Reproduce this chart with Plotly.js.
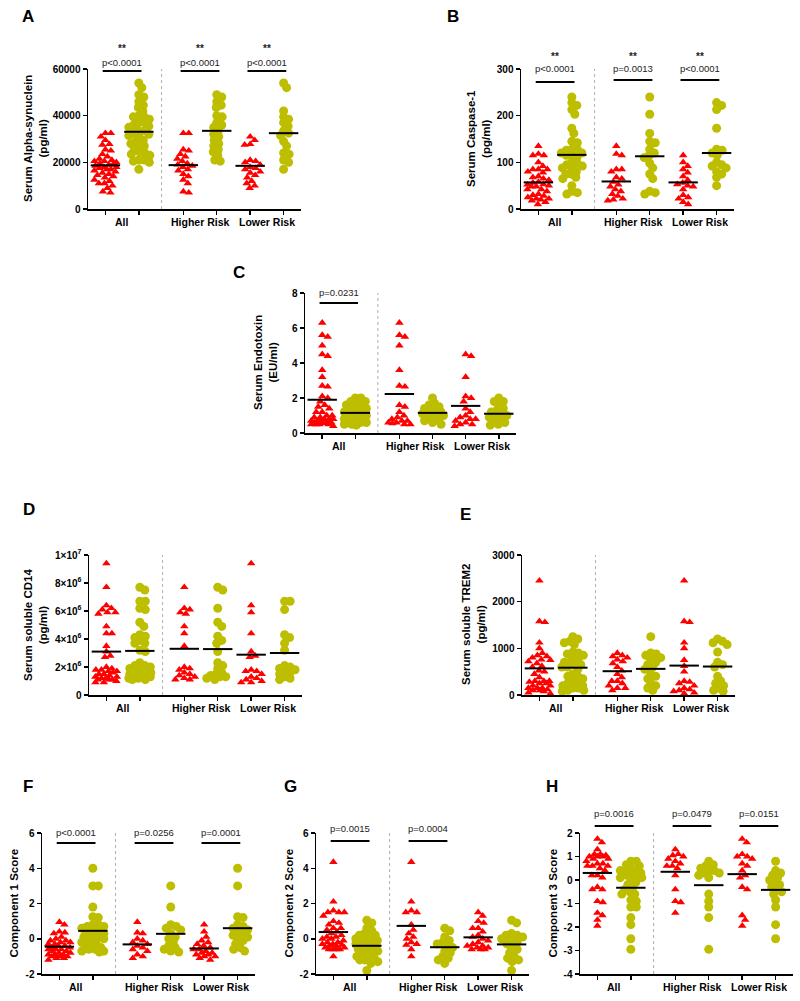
<!DOCTYPE html>
<html><head><meta charset="utf-8">
<script src="https://cdn.plot.ly/plotly-3.0.1.min.js"></script>
<style>html,body{margin:0;padding:0;background:#fff}#chart{width:800px;height:1001px}</style>
</head><body><div id="chart"></div>
<script>
// ---------- DATA ----------
const groupLabels = ['All', 'Higher Risk', 'Lower Risk'];

// A: Serum Alpha-synuclein (pg/ml)
const A_red_hr = [32500, 32500, 25500, 25000, 23500, 22500, 21500, 20500, 19500, 19000, 18500, 18000, 17000, 16500, 15000, 14000, 12500, 11000, 7500, 7000];
const A_red_lr = [31000, 29500, 27800, 27500, 21000, 20500, 20000, 19000, 18000, 17500, 17000, 16000, 15500, 14500, 13500, 12000, 11000, 10000, 9000];
const A_yel_hr = [49000, 48000, 46000, 44500, 43500, 40000, 39500, 37000, 36000, 35000, 33500, 32000, 31000, 29500, 28000, 27000, 25500, 24500, 23000, 21000, 20500];
const A_yel_lr = [54000, 52000, 42000, 39500, 38500, 37000, 35500, 33500, 32500, 31500, 29000, 27000, 24000, 23500, 21000, 20000, 17000];
const A_means = [18700, 33100, 18800, 33500, 18500, 32500];
const A_tickvals = [0, 20000, 40000, 60000];
const A_ticktext = ['0', '20000', '40000', '60000'];
const A_pvals = ['p<0.0001', 'p<0.0001', 'p<0.0001'];
const A_stars = ['**', '**', '**'];

// B: Serum Caspase-1 (pg/ml)
const B_red_hr = [135, 118, 115, 85, 80, 85, 68, 65, 58, 52, 48, 42, 38, 32, 28, 22, 20, 18];
const B_red_lr = [115, 100, 92, 85, 78, 70, 62, 56, 53, 50, 48, 42, 30, 25, 22, 15, 10];
const B_yel_hr = [240, 203, 162, 145, 142, 128, 120, 115, 110, 98, 88, 75, 65, 38, 35, 32];
const B_yel_lr = [228, 222, 213, 173, 128, 126, 120, 115, 100, 92, 95, 88, 80, 75, 68, 50];
const B_means = [57, 116, 59, 113, 57, 120];
const B_tickvals = [0, 100, 200, 300];
const B_ticktext = ['0', '100', '200', '300'];
const B_pvals = ['p<0.0001', 'p=0.0013', 'p<0.0001'];
const B_stars = ['**', '**', '**'];

// C: Serum Endotoxin (EU/ml)
const C_red_hr = [6.3, 5.5, 5.6, 5.0, 3.6, 2.7, 2.65, 1.6, 1.5, 1.2, 1.0, 0.9, 0.8, 0.7, 0.7, 0.6, 0.6, 0.55, 0.5, 0.5];
const C_red_lr = [4.4, 4.5, 3.2, 2.1, 2.0, 1.8, 1.4, 1.2, 1.0, 0.9, 0.8, 0.8, 0.7, 0.6, 0.5, 0.5, 0.4];
const C_yel_hr = [2.0, 1.7, 1.6, 1.5, 1.4, 1.3, 1.2, 1.2, 1.1, 1.0, 1.0, 0.9, 0.8, 0.7, 0.6, 0.5];
const C_yel_lr = [2.0, 1.8, 1.8, 1.6, 1.4, 1.3, 1.2, 1.1, 1.0, 1.0, 0.9, 0.8, 0.7, 0.6, 0.5, 0.45];
const C_means = [1.9, 1.15, 2.23, 1.15, 1.55, 1.1];
const C_tickvals = [0, 2, 4, 6, 8];
const C_ticktext = ['0', '2', '4', '6', '8'];
const C_pvals = ['p=0.0231', null, null];
const C_stars = [null, null, null];

// D: Serum soluble CD14 (pg/ml)
const D_red_hr = [7.7e6, 6.2e6, 6.1e6, 5.9e6, 5.8e6, 4.9e6, 4.4e6, 3.5e6, 2.0e6, 1.9e6, 1.8e6, 1.6e6, 1.5e6, 1.4e6, 1.3e6, 1.2e6, 1.1e6, 1.1e6];
const D_red_lr = [9.4e6, 6.4e6, 5.9e6, 4.4e6, 3.1e6, 2.8e6, 2.7e6, 1.8e6, 1.7e6, 1.7e6, 1.5e6, 1.3e6, 1.2e6, 1.1e6, 1.0e6, 0.9e6, 0.9e6];
const D_yel_hr = [7.7e6, 7.5e6, 6.2e6, 5.2e6, 4.9e6, 4.2e6, 3.9e6, 3.7e6, 3.1e6, 2.3e6, 2.1e6, 1.9e6, 1.6e6, 1.5e6, 1.4e6, 1.3e6, 1.3e6, 1.2e6, 1.1e6];
const D_yel_lr = [6.7e6, 6.7e6, 6.1e6, 4.3e6, 4.1e6, 3.7e6, 3.2e6, 2.1e6, 2.0e6, 1.9e6, 1.8e6, 1.7e6, 1.6e6, 1.5e6, 1.3e6, 1.2e6, 1.1e6];
const D_means = [3.1e6, 3.15e6, 3.3e6, 3.28e6, 2.88e6, 3.0e6];
const D_tickvals = [0, 2e6, 4e6, 6e6, 8e6, 1e7];
const D_ticktext = ['0', '2×10<sup>6</sup>', '4×10<sup>6</sup>', '6×10<sup>6</sup>', '8×10<sup>6</sup>', '1×10<sup>7</sup>'];

// E: Serum soluble TREM2 (pg/ml)
const E_red_hr = [900, 850, 830, 800, 760, 720, 680, 600, 520, 450, 380, 300, 300, 250, 200, 150, 150, 100];
const E_red_lr = [2450, 1580, 1560, 1120, 1000, 750, 620, 500, 300, 280, 250, 200, 150, 120, 100, 80, 50, 30];
const E_yel_hr = [1250, 900, 880, 850, 800, 750, 700, 650, 600, 550, 450, 400, 350, 250, 200, 150, 100];
const E_yel_lr = [1200, 1150, 1120, 1080, 920, 700, 650, 600, 400, 300, 250, 200, 150, 100, 80];
const E_means = [570, 585, 510, 560, 630, 610];
const E_tickvals = [0, 1000, 2000, 3000];
const E_ticktext = ['0', '1000', '2000', '3000'];

// F: Component 1 Score
const F_red_hr = [0.95, 0.35, 0.3, 0.0, -0.1, -0.2, -0.3, -0.4, -0.5, -0.6, -0.7, -0.9, -1.0, -1.1];
const F_red_lr = [0.8, 0.4, 0.1, -0.1, -0.2, -0.3, -0.4, -0.5, -0.6, -0.6, -0.7, -0.8, -0.8, -0.9, -0.9, -1.0, -1.0, -1.1, -1.2];
const F_yel_hr = [3.0, 1.8, 0.8, 0.7, 0.6, 0.5, 0.3, 0.1, 0.0, -0.2, -0.4, -0.5, -0.6, -0.7, -0.75];
const F_yel_lr = [4.0, 3.0, 1.25, 1.2, 0.8, 0.7, 0.6, 0.5, 0.4, 0.3, 0.2, 0.1, 0.0, -0.1, -0.3, -0.5, -0.6, -0.7];
const F_means = [-0.45, 0.45, -0.32, 0.28, -0.55, 0.6];
const F_pvals = ['p<0.0001', 'p=0.0256', 'p=0.0001'];

// G: Component 2 Score
const G_red_hr = [4.35, 2.1, 1.6, 1.5, 1.5, 0.8, 0.5, 0.3, 0.1, 0.0, -0.2, -0.3, -0.35, -0.6, -1.0];
const G_red_lr = [1.5, 1.3, 1.0, 0.9, 0.6, 0.6, 0.4, 0.2, 0.1, 0.0, -0.1, -0.2, -0.3, -0.4, -0.4, -0.5, -0.5, -0.6, -0.6, -0.6];
const G_yel_hr = [0.6, 0.45, 0.1, -0.1, -0.2, -0.3, -0.4, -0.5, -0.7, -0.8, -1.0, -1.1, -1.2, -1.4];
const G_yel_lr = [1.05, 0.9, 0.3, 0.2, 0.2, 0.1, 0.0, -0.1, -0.2, -0.3, -0.5, -0.6, -0.8, -1.0, -1.1, -1.2, -1.3, -1.8];
const G_means = [0.38, -0.4, 0.73, -0.48, 0.08, -0.32];
const G_pvals = ['p=0.0015', 'p=0.0004', null];
const FG_tickvals = [-2, 0, 2, 4, 6];
const FG_ticktext = ['-2', '0', '2', '4', '6'];

// H: Component 3 Score
const H_red_hr = [1.3, 1.1, 1.05, 1.0, 0.9, 0.8, 0.7, 0.6, 0.6, 0.5, 0.2, -0.4, -0.9, -0.95, -1.4];
const H_red_lr = [1.75, 1.6, 1.1, 1.0, 1.0, 0.9, 0.7, 0.6, 0.4, 0.2, 0.1, -0.3, -0.4, -1.5, -1.7, -1.95];
const H_yel_hr = [0.8, 0.65, 0.6, 0.5, 0.4, 0.4, 0.3, 0.3, 0.2, 0.1, -0.6, -0.9, -1.15, -1.6, -2.95];
const H_yel_lr = [0.8, 0.4, 0.3, 0.2, 0.1, 0.0, -0.1, -0.2, -0.3, -0.4, -0.5, -0.6, -0.85, -1.15, -1.9, -2.5];
const H_means = [0.3, -0.33, 0.35, -0.22, 0.25, -0.42];
const H_pvals = ['p=0.0016', 'p=0.0479', 'p=0.0151'];
const H_tickvals = [-4, -3, -2, -1, 0, 1, 2];
const H_ticktext = ['-4', '-3', '-2', '-1', '0', '1', '2'];

// ---------- LAYOUT CONFIG ----------
const W = 800, H = 1001;
const GP = [1, 2, 3.33, 4.33, 5.33, 6.33];   // group positions
const XR = [0.48, 6.85];
const SEP = 2.68;
const RED = '#FF0000', OLIVE = '#BEBE00';
const FONT = 'Liberation Sans, Arial, sans-serif';

const panels = [
  {letter:'A', lxy:[28,16], title:'Serum Alpha-synuclein<br>(pg/ml)', tx:36, d:[A_red_hr,A_red_lr,A_yel_hr,A_yel_lr], means:A_means,
   yr:[0,60000], tv:A_tickvals, tt:A_ticktext, px:[88,301], py:[69,209], pvals:A_pvals, stars:A_stars, barY:[71,71,71], textY:62, starY:48},
  {letter:'B', lxy:[453,16], title:'Serum Caspase-1<br>(pg/ml)', tx:479, d:[B_red_hr,B_red_lr,B_yel_hr,B_yel_lr], means:B_means,
   yr:[0,300], tv:B_tickvals, tt:B_ticktext, px:[521,734], py:[69,209], pvals:B_pvals, stars:B_stars, barY:[82,80,80], textY:68, starY:57},
  {letter:'C', lxy:[239,272], title:'Serum Endotoxin<br>(EU/ml)', tx:265, d:[C_red_hr,C_red_lr,C_yel_hr,C_yel_lr], means:C_means,
   yr:[0,8], tv:C_tickvals, tt:C_ticktext, px:[305,516], py:[293,433], pvals:C_pvals, stars:C_stars, barY:[303,303,303], textY:293, starY:0},
  {letter:'D', lxy:[29,510], title:'Serum soluble CD14<br>(pg/ml)', tx:35, d:[D_red_hr,D_red_lr,D_yel_hr,D_yel_lr], means:D_means,
   yr:[0,1e7], tv:D_tickvals, tt:D_ticktext, px:[89,302], py:[555,695], pvals:null, stars:null},
  {letter:'E', lxy:[465,514], title:'Serum soluble TREM2<br>(pg/ml)', tx:473, d:[E_red_hr,E_red_lr,E_yel_hr,E_yel_lr], means:E_means,
   yr:[0,3000], tv:E_tickvals, tt:E_ticktext, px:[522,735], py:[555,695], pvals:null, stars:null},
  {letter:'F', lxy:[28,786], title:'Component 1 Score', tx:13, d:[F_red_hr,F_red_lr,F_yel_hr,F_yel_lr], means:F_means,
   yr:[-2,6], tv:FG_tickvals, tt:FG_ticktext, px:[42,255], py:[833,974], pvals:F_pvals, stars:null, barY:[843,843,843], textY:832},
  {letter:'G', lxy:[290,786], title:'Component 2 Score', tx:288, d:[G_red_hr,G_red_lr,G_yel_hr,G_yel_lr], means:G_means,
   yr:[-2,6], tv:FG_tickvals, tt:FG_ticktext, px:[316,529], py:[833,974], pvals:G_pvals, stars:null, barY:[841,841,841], textY:828},
  {letter:'H', lxy:[552,786], title:'Component 3 Score', tx:552, d:[H_red_hr,H_red_lr,H_yel_hr,H_yel_lr], means:H_means,
   yr:[-4,2], tv:H_tickvals, tt:H_ticktext, px:[580,793], py:[833,974], pvals:H_pvals, stars:null, barY:[826,826,826], textY:813},
];

// beeswarm: horizontal pixel offsets so markers do not pile up
function swarmOffsets(vals, pxY, diam, maxPx) {
  const order = vals.map((v, i) => i).sort((a, b) => vals[b] - vals[a]);
  const placed = [], out = new Array(vals.length).fill(0);
  const cands = [0];
  for (let s = 0.5; s <= maxPx; s += 0.5) { cands.push(s); cands.push(-s); }
  for (const i of order) {
    const y = vals[i] * pxY;
    let chosen = null, bestD = -1, bestC = 0;
    for (const c of cands) {
      let md = Infinity;
      for (const p of placed) { const dd = Math.hypot(c - p[0], y - p[1]); if (dd < md) md = dd; }
      if (md >= diam) { chosen = c; break; }
      if (md > bestD) { bestD = md; bestC = c; }
    }
    if (chosen === null) chosen = bestC;
    placed.push([chosen, y]); out[i] = chosen;
  }
  return out;
}

const traces = [], shapes = [], annotations = [];
const layout = {
  width: W, height: H, margin: {l:0, r:0, t:0, b:0}, showlegend: false,
  paper_bgcolor: '#fff', plot_bgcolor: '#fff', font: {family: FONT, color: '#000'},
  hovermode: false, shapes: shapes, annotations: annotations
};

panels.forEach((p, k) => {
  const n = k === 0 ? '' : String(k + 1);
  const xid = 'x' + n, yid = 'y' + n;
  const xname = 'xaxis' + n, yname = 'yaxis' + n;
  layout[xname] = {domain: [p.px[0] / W, p.px[1] / W], range: XR, anchor: yid, showline: true, linecolor: '#000', linewidth: 1.5,
    ticks: 'outside', ticklen: 4, tickwidth: 1.5, tickcolor: '#000', tickmode: 'array', tickvals: GP, showticklabels: false,
    showgrid: false, zeroline: false, fixedrange: true};
  layout[yname] = {domain: [1 - p.py[1] / H, 1 - p.py[0] / H], range: p.yr, anchor: xid, showline: true, linecolor: '#000', linewidth: 1.5,
    ticks: 'outside', ticklen: 4, tickwidth: 1.5, tickcolor: '#000', tickmode: 'array', tickvals: p.tv, ticktext: p.tt,
    tickfont: {family: FONT, size: 10, weight: 'bold', color: '#000'}, showgrid: false, zeroline: false, fixedrange: true};

  const plotH = p.py[1] - p.py[0], plotW = p.px[1] - p.px[0];
  const pxY = plotH / (p.yr[1] - p.yr[0]);
  const pxX = plotW / (XR[1] - XR[0]);
  const [rh, rl, yh, yl] = p.d;
  const redGroups = [rh.concat(rl), rh, rl];   // All = Higher + Lower Risk
  const yelGroups = [yh.concat(yl), yh, yl];

  function build(groups, posIdx) {
    const xs = [], ys = [];
    groups.forEach((g, gi) => {
      const off = swarmOffsets(g, pxY, 5.5, 11);
      g.forEach((v, i) => { xs.push(GP[posIdx[gi]] + off[i] / pxX); ys.push(v); });
    });
    return {xs, ys};
  }
  const r = build(redGroups, [0, 2, 4]);
  const yv = build(yelGroups, [1, 3, 5]);
  traces.push({type: 'scatter', mode: 'markers', x: r.xs, y: r.ys, xaxis: xid, yaxis: yid, cliponaxis: false,
    marker: {symbol: 'triangle-up', size: 7.5, color: RED, line: {width: 0}}});
  traces.push({type: 'scatter', mode: 'markers', x: yv.xs, y: yv.ys, xaxis: xid, yaxis: yid, cliponaxis: false,
    marker: {symbol: 'circle', size: 9, color: OLIVE, line: {width: 0}}});
  traces.push({type: 'scatter', mode: 'markers', x: GP, y: p.means, xaxis: xid, yaxis: yid, cliponaxis: false,
    marker: {symbol: 'line-ew', size: 21, color: '#000', line: {width: 2, color: '#000'}}});

  // dotted separator
  shapes.push({type: 'line', xref: xid, yref: yid + ' domain', x0: SEP, x1: SEP, y0: 0, y1: 1,
    line: {color: '#b0b0b0', width: 1, dash: 'dot'}});

  // panel letter
  annotations.push({xref: 'paper', yref: 'paper', x: p.lxy[0] / W, y: 1 - p.lxy[1] / H, text: p.letter, showarrow: false,
    xanchor: 'center', yanchor: 'middle', font: {family: FONT, size: 17, weight: 'bold', color: '#000'}});
  // y title
  annotations.push({xref: 'paper', yref: 'paper', x: p.tx / W, y: 1 - ((p.py[0] + p.py[1]) / 2) / H, text: p.title, showarrow: false,
    textangle: -90, xanchor: 'center', yanchor: 'middle', font: {family: FONT, size: 11.5, weight: 'bold', color: '#000'}});
  // x category labels
  groupLabels.forEach((lab, gi) => {
    annotations.push({xref: xid, yref: 'paper', x: (GP[2 * gi] + GP[2 * gi + 1]) / 2, y: 1 - (p.py[1] + 13) / H, text: lab,
      showarrow: false, xanchor: 'center', yanchor: 'middle', font: {family: FONT, size: 10.5, weight: 'bold', color: '#000'}});
  });
  // significance
  if (p.pvals) {
    p.pvals.forEach((pv, gi) => {
      if (!pv) return;
      const a = GP[2 * gi], b = GP[2 * gi + 1];
      shapes.push({type: 'line', xref: xid, yref: 'paper', x0: a - 0.08, x1: b + 0.08,
        y0: 1 - p.barY[gi] / H, y1: 1 - p.barY[gi] / H, line: {color: '#000', width: 2}});
      annotations.push({xref: xid, yref: 'paper', x: (a + b) / 2, y: 1 - p.textY / H, text: pv, showarrow: false,
        xanchor: 'center', yanchor: 'middle', font: {family: FONT, size: 9.5, color: '#222'}});
      if (p.stars && p.stars[gi]) {
        annotations.push({xref: xid, yref: 'paper', x: (a + b) / 2, y: 1 - p.starY / H, text: p.stars[gi], showarrow: false,
          xanchor: 'center', yanchor: 'middle', font: {family: FONT, size: 10, weight: 'bold', color: '#222'}});
      }
    });
  }
});

Plotly.newPlot('chart', traces, layout, {staticPlot: true, displayModeBar: false});
</script>
</body></html>
